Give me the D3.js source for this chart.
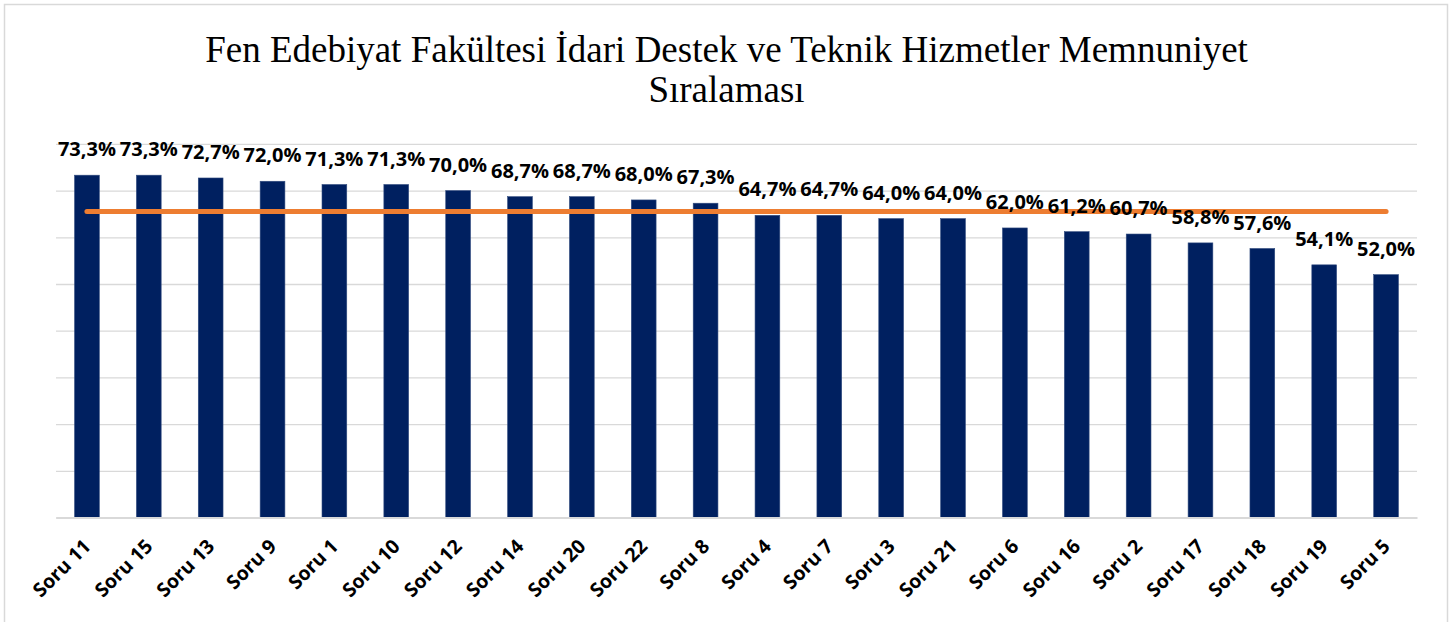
<!DOCTYPE html>
<html>
<head>
<meta charset="utf-8">
<script src="https://cdn.jsdelivr.net/npm/d3@7"></script>
<style>
    body { margin: 0; background: #fff; }
</style>
</head>
<body>
<div id="chart"></div>
<script>
"use-strict";

const categories = ["Soru 11", "Soru 15", "Soru 13", "Soru 9", "Soru 1", "Soru 10", "Soru 12", "Soru 14",
    "Soru 20", "Soru 22", "Soru 8", "Soru 4", "Soru 7", "Soru 3", "Soru 21", "Soru 6", "Soru 16",
    "Soru 2", "Soru 17", "Soru 18", "Soru 19", "Soru 5"];
const values = [73.3, 73.3, 72.7, 72.0, 71.3, 71.3, 70.0, 68.7, 68.7, 68.0, 67.3, 64.7, 64.7, 64.0,
    64.0, 62.0, 61.2, 60.7, 58.8, 57.6, 54.1, 52.0];
const average = [65.5, 65.5, 65.5, 65.5, 65.5, 65.5, 65.5, 65.5, 65.5, 65.5, 65.5, 65.5, 65.5, 65.5,
    65.5, 65.5, 65.5, 65.5, 65.5, 65.5, 65.5, 65.5];
const yTicks = [0, 10, 20, 30, 40, 50, 60, 70, 80];
const titleLines = ["Fen Edebiyat Fakültesi İdari Destek ve Teknik Hizmetler Memnuniyet", "Sıralaması"];

const plot = {
    width: 1453,
    height: 622,
    left: 56,
    right: 1417,
    top: 143.9,
    bottom: 517.5
}

window.onload = function () {
    let svg = d3.select("#chart")
        .append("svg")
        .attr("width", plot.width)
        .attr("height", plot.height);

    // frame around the whole chart
    svg.append("rect")
        .attr("x", 4.5)
        .attr("y", 4.5)
        .attr("width", 1443)
        .attr("height", 640)
        .attr("fill", "none")
        .attr("stroke", "#d9d9d9")
        .attr("stroke-width", 1.5);

    svg.selectAll(".title")
        .data(titleLines)
        .enter()
        .append("text")
        .attr("x", plot.width / 2)
        .attr("y", (d, i) => 62 + i * 40)
        .attr("text-anchor", "middle")
        .attr("font-family", "'Liberation Serif', 'Times New Roman', serif")
        .style("font-size", "37px")
        .attr("fill", "#000")
        .text((d) => d);

    let xScale = d3.scaleBand()
        .domain(categories)
        .range([plot.left, plot.right])
        .paddingInner(0.6)
        .paddingOuter(0.3);

    let yScale = d3.scaleLinear()
        .domain([0, 80])
        .range([plot.bottom, plot.top]);

    // grid lines
    let yAxis = d3.axisLeft(yScale)
        .tickValues(yTicks)
        .tickSize(-(plot.right - plot.left))
        .tickFormat("");
    let grid = svg.append("g")
        .attr("transform", "translate(" + plot.left + ", 0)")
        .call(yAxis);
    grid.select(".domain").remove();
    grid.selectAll(".tick line")
        .attr("stroke", "#d9d9d9")
        .attr("stroke-width", 1.3);

    svg.selectAll(".bar")
        .data(values)
        .enter()
        .append("rect")
        .attr("x", (d, i) => xScale(categories[i]))
        .attr("y", (d) => yScale(d))
        .attr("width", xScale.bandwidth())
        .attr("height", (d) => yScale(0) - yScale(d))
        .attr("fill", "#002060")
        .attr("stroke", "#2f4a7e")
        .attr("stroke-width", 0.6);

    // x axis: base line and rotated labels
    let xAxis = d3.axisBottom(xScale).tickSize(0).tickFormat("");
    let xg = svg.append("g")
        .attr("transform", "translate(0, " + plot.bottom + ")")
        .call(xAxis);
    xg.select(".domain")
        .attr("stroke", "#d9d9d9")
        .attr("stroke-width", 2);

    svg.selectAll(".xlabel")
        .data(categories)
        .enter()
        .append("text")
        .attr("transform", (d) => "translate(" + (xScale(d) + xScale.bandwidth() / 2 + 5) + ", " + (plot.bottom + 30) + ") rotate(-45)")
        .attr("text-anchor", "end")
        .attr("font-family", "'Open Sans', sans-serif")
        .attr("font-weight", "bold")
        .style("font-size", "19.5px")
        .attr("fill", "#000")
        .text((d) => d);

    // average line
    let line = d3.line()
        .x((d, i) => xScale(categories[i]) + xScale.bandwidth() / 2)
        .y((d) => yScale(d));
    svg.append("path")
        .datum(average)
        .attr("fill", "none")
        .attr("stroke", "#ed7d31")
        .attr("stroke-width", 5)
        .attr("stroke-linecap", "round")
        .attr("d", line);

    // value labels
    svg.selectAll(".vlabel")
        .data(values)
        .enter()
        .append("text")
        .attr("x", (d, i) => xScale(categories[i]) + xScale.bandwidth() / 2)
        .attr("y", (d) => yScale(d) - 19)
        .attr("text-anchor", "middle")
        .attr("font-family", "'Open Sans', sans-serif")
        .attr("font-weight", "bold")
        .style("font-size", "20px")
        .attr("fill", "#000")
        .text((d) => d.toFixed(1).replace(".", ",") + "%");
}
</script>
</body>
</html>
